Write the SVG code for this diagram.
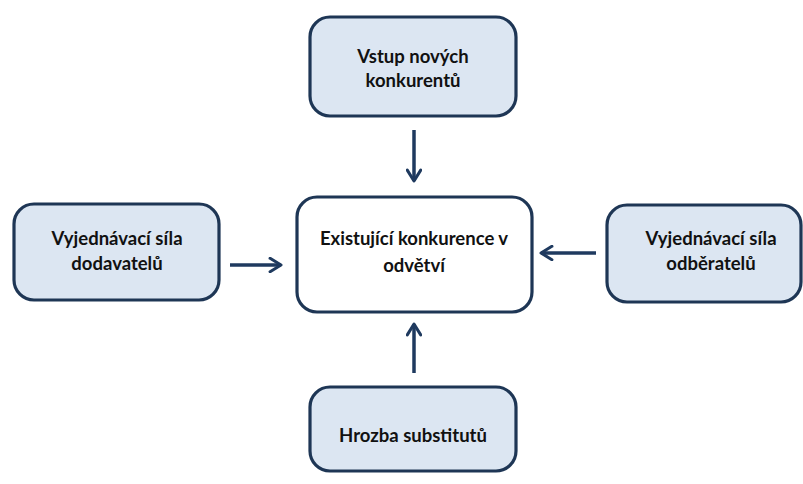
<svg xmlns="http://www.w3.org/2000/svg" width="803" height="484" viewBox="0 0 803 484">
<style>
.box{fill:#dce6f2;stroke:#1e3655;stroke-width:3.2}
.center{fill:#ffffff;stroke:#1e3655;stroke-width:3.2}
.lbl{font-family:Lato,"Open Sans","Liberation Sans",sans-serif;font-weight:bold;font-size:18.5px;fill:#111;text-anchor:middle}
.conn{stroke:#1f3a5f;stroke-width:3.5;fill:none;marker-end:url(#ah)}
</style>
<defs>
<marker id="ah" viewBox="0 0 10 10" refX="8" refY="5" markerWidth="4.8" markerHeight="4.8" orient="auto" markerUnits="strokeWidth">
<polyline points="1.5,1 8,5 1.5,9" fill="none" stroke="#1f3a5f" stroke-width="1.8" stroke-linecap="round" stroke-linejoin="round"/>
</marker>
</defs>
<rect width="803" height="484" fill="#ffffff"/>
<g id="connectors">
<line class="conn" x1="414" y1="130" x2="414" y2="181"/>
<line class="conn" x1="230" y1="265" x2="281" y2="265"/>
<line class="conn" x1="596" y1="253" x2="541" y2="253"/>
<line class="conn" x1="414" y1="373" x2="414" y2="324"/>
</g>
<g id="n-vstup">
<rect class="box" x="310" y="17" width="206" height="99" rx="20"/>
<text class="lbl" x="413" y="63">Vstup nových</text>
<text class="lbl" x="413" y="87">konkurentů</text>
</g>
<g id="n-dodavatelu">
<rect class="box" x="14" y="204" width="205" height="96" rx="20"/>
<text class="lbl" x="117" y="245">Vyjednávací síla</text>
<text class="lbl" x="117" y="270">dodavatelů</text>
</g>
<g id="n-existujici">
<rect class="center" x="297" y="197" width="235" height="115" rx="20"/>
<text class="lbl" x="414" y="245">Existující konkurence v</text>
<text class="lbl" x="414" y="272">odvětví</text>
</g>
<g id="n-odberatelu">
<rect class="box" x="607" y="205" width="194" height="97" rx="20"/>
<text class="lbl" x="711" y="245">Vyjednávací síla</text>
<text class="lbl" x="711" y="270">odběratelů</text>
</g>
<g id="n-substituty">
<rect class="box" x="310" y="387" width="206" height="84" rx="20"/>
<text class="lbl" x="413" y="442">Hrozba substitutů</text>
</g>
</svg>
